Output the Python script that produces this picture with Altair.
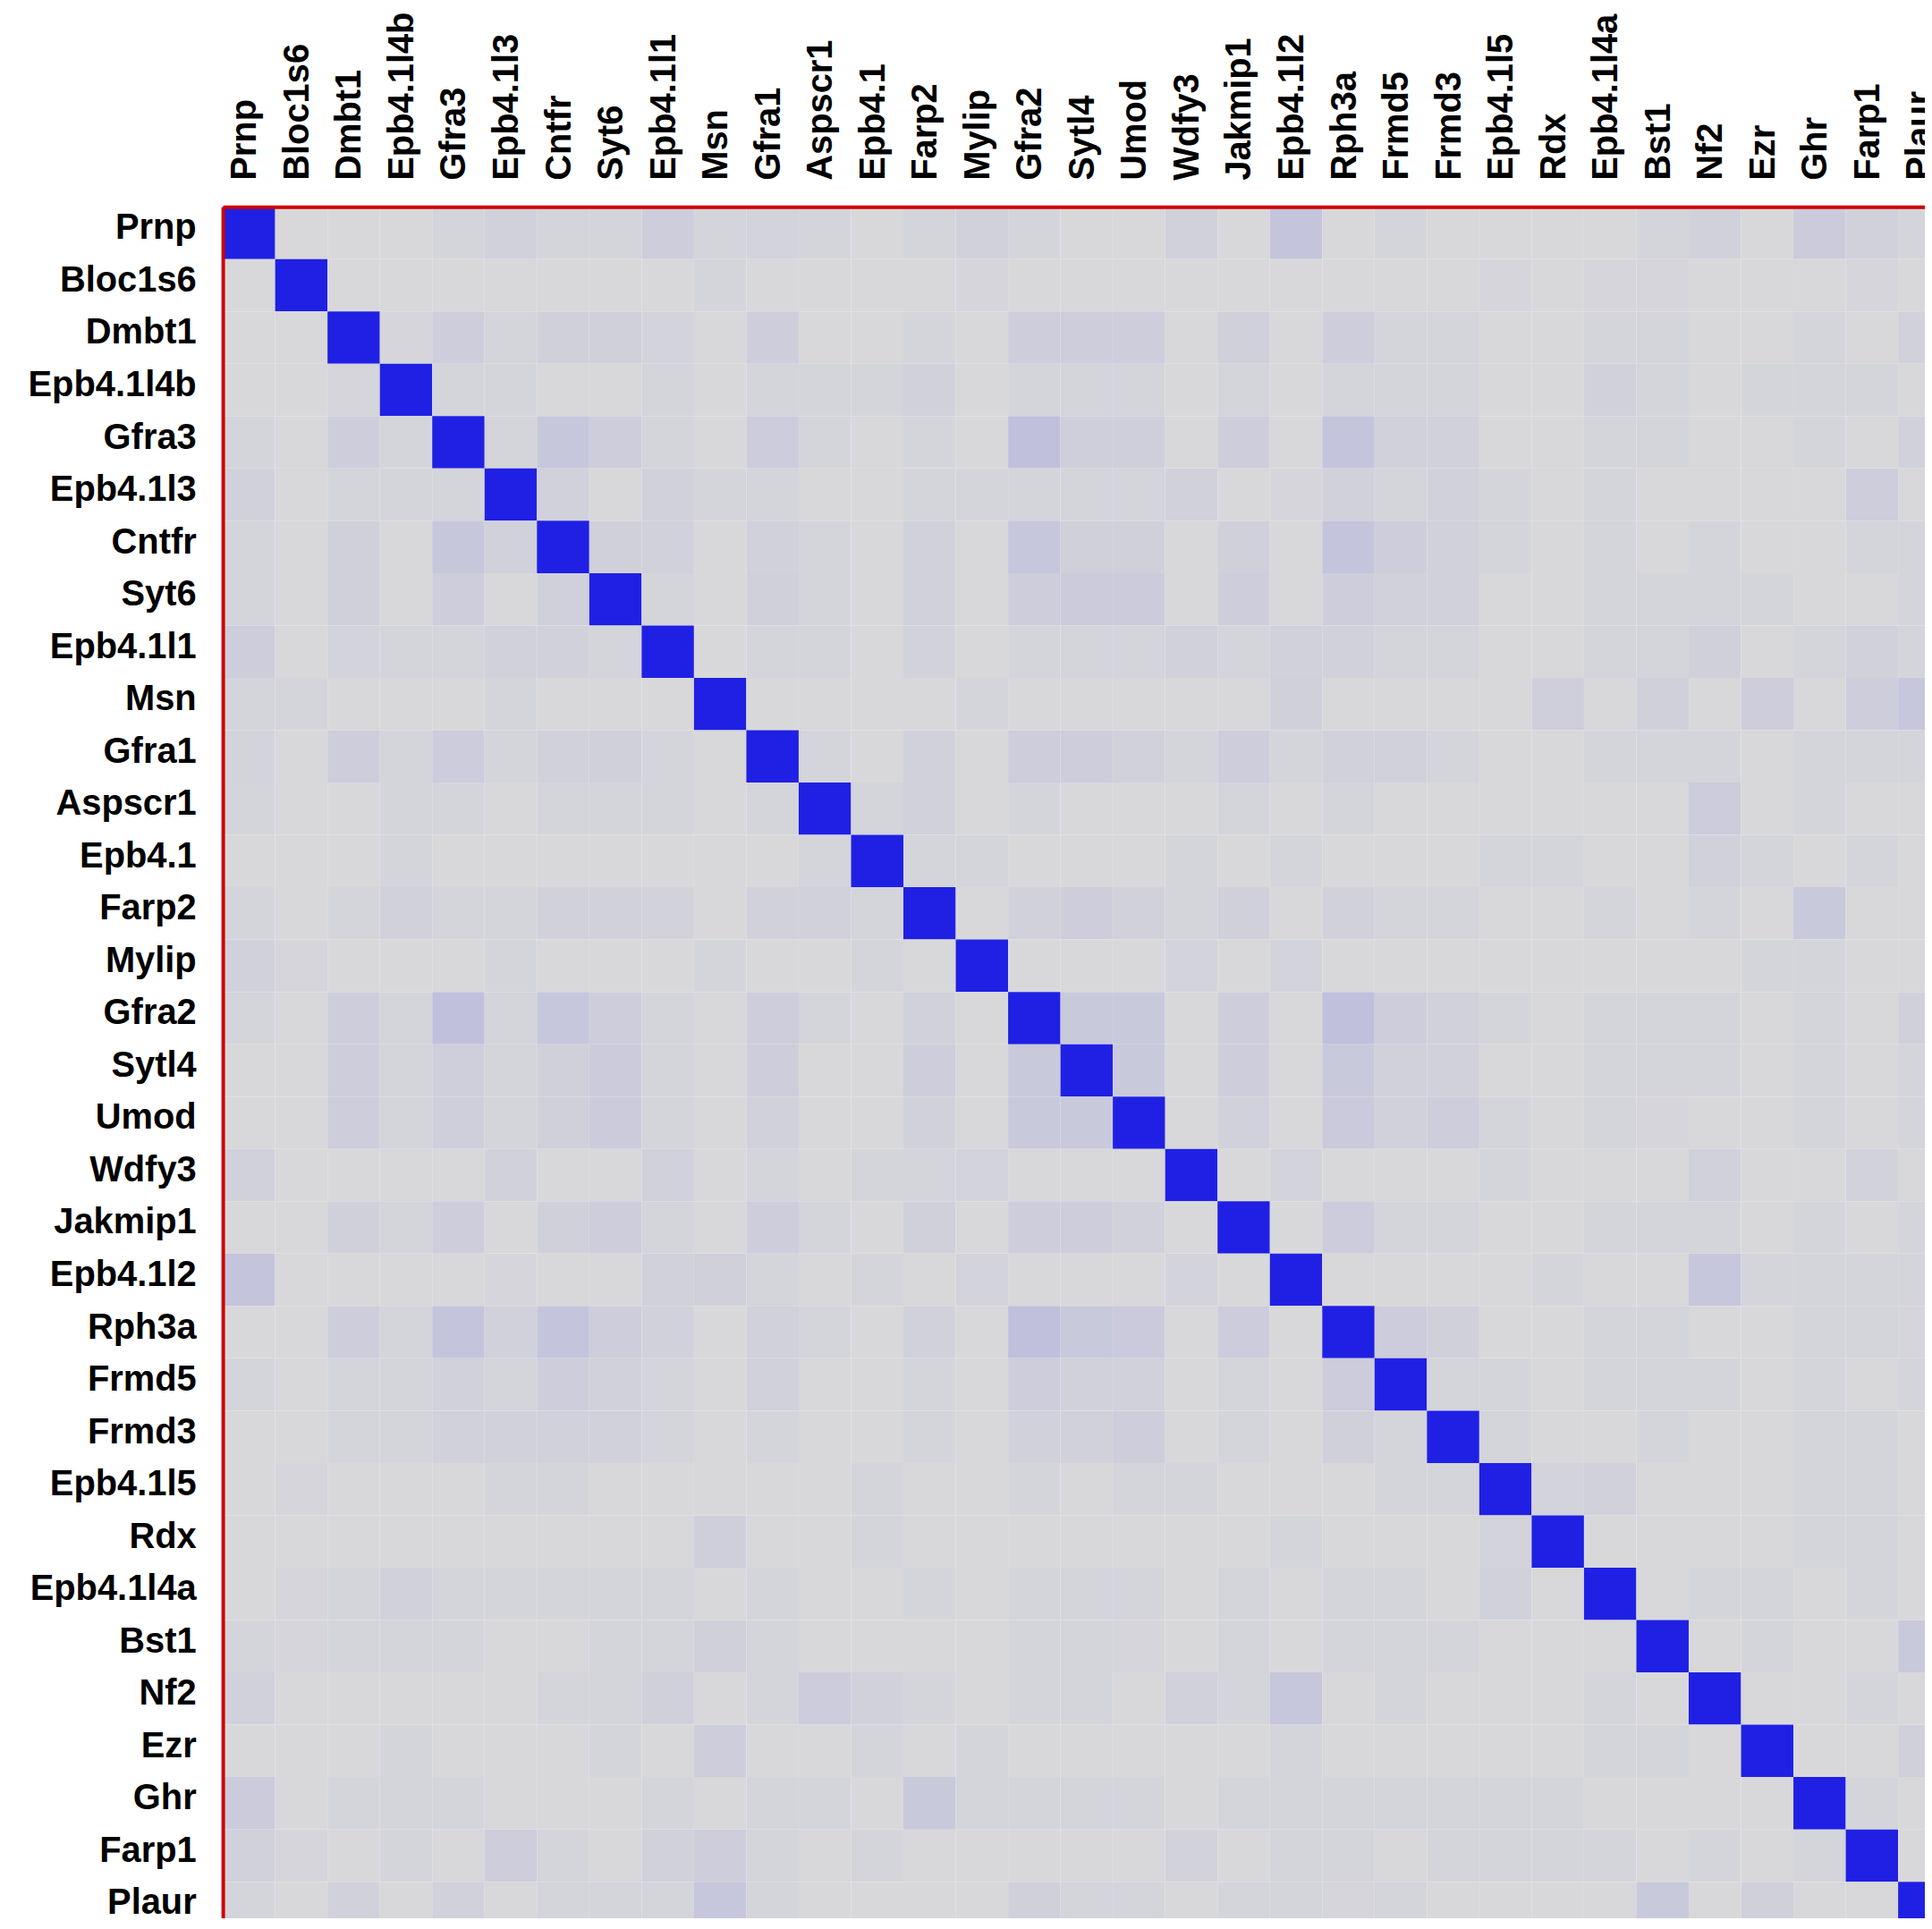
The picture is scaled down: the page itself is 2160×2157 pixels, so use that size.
import altair as alt
import pandas as pd

genes = ["Prnp", "Bloc1s6", "Dmbt1", "Epb4.1l4b", "Gfra3", "Epb4.1l3", "Cntfr", "Syt6",
         "Epb4.1l1", "Msn", "Gfra1", "Aspscr1", "Epb4.1", "Farp2", "Mylip", "Gfra2",
         "Sytl4", "Umod", "Wdfy3", "Jakmip1", "Epb4.1l2", "Rph3a", "Frmd5", "Frmd3",
         "Epb4.1l5", "Rdx", "Epb4.1l4a", "Bst1", "Nf2", "Ezr", "Ghr", "Farp1", "Plaur"]

# upper triangle of the symmetric matrix: row i lists the values for columns i+1 .. 32
upper = [
    [0, 0, 0, .02, .04, .02, .02, .06, .02, .025, .02, 0, .02, .04, .02, 0, 0, .04, 0, .11, 0, .02, 0, 0, 0, 0, .02, .04, 0, .07, .04, .02],
    [0, 0, 0, 0, 0, 0, 0, .02, 0, 0, 0, 0, .015, 0, 0, 0, 0, 0, 0, 0, 0, 0, .015, 0, .015, .015, 0, 0, 0, .015, 0],
    [.015, .06, .02, .045, .045, .025, 0, .06, 0, 0, .02, 0, .06, .06, .06, 0, .045, 0, .06, .02, .02, 0, 0, .02, .02, 0, 0, .02, 0, .04],
    [.02, .02, 0, 0, .02, 0, .02, .02, .02, .04, 0, .02, .02, .02, 0, .02, 0, .02, .02, .02, 0, 0, .04, .02, 0, .02, .02, .02, 0],
    [.02, .09, .06, .02, 0, .065, .02, 0, .02, 0, .13, .05, .05, 0, .06, 0, .11, .04, .04, 0, 0, .02, .02, 0, 0, .02, 0, .04],
    [.04, 0, .04, .02, .02, 0, 0, .02, .02, .02, .02, .02, .04, 0, .015, .04, .02, .04, .02, 0, .02, 0, 0, 0, 0, .06, 0],
    [.045, .04, 0, .04, .02, 0, .04, 0, .10, .045, .045, 0, .045, 0, .11, .06, .04, .02, 0, .02, 0, .02, 0, 0, .02, .02],
    [.02, 0, .045, .02, 0, .04, 0, .06, .07, .07, 0, .06, 0, .06, .04, .04, 0, 0, .02, .02, .02, .02, 0, 0, .02],
    [0, .02, .02, 0, .035, 0, .02, .02, .02, .04, .02, .04, .04, .02, .02, 0, 0, .02, .02, .045, 0, .02, .04, .02],
    [0, 0, 0, 0, .02, 0, 0, 0, 0, 0, .045, 0, 0, 0, 0, .05, 0, .045, 0, .06, 0, .06, .10],
    [.02, 0, .04, 0, .06, .06, .04, .02, .06, .02, .04, .04, .02, 0, 0, .02, .02, .02, 0, .02, .02, .02],
    [.02, .04, 0, .02, 0, 0, 0, .02, 0, .02, 0, 0, 0, 0, 0, 0, .065, 0, .02, 0, 0],
    [.02, .02, 0, 0, 0, .02, 0, .02, 0, 0, 0, .02, .02, 0, 0, .04, .02, 0, .02, 0],
    [0, .04, .06, .04, .02, .045, 0, .04, .02, .02, 0, 0, .02, 0, .02, 0, .08, 0, 0],
    [0, 0, 0, .025, 0, .025, 0, 0, 0, 0, 0, 0, 0, 0, .02, .02, 0, 0],
    [.08, .08, 0, .06, 0, .13, .06, .04, .02, 0, .02, .02, .02, 0, .02, 0, .045],
    [.08, 0, .06, 0, .08, .04, .04, 0, 0, .02, .02, .02, 0, .02, 0, .02],
    [0, .04, 0, .075, .04, .06, .02, 0, .02, .015, 0, 0, .02, 0, .02],
    [0, .025, 0, 0, 0, .02, 0, 0, 0, .04, 0, 0, .035, 0],
    [0, .065, .02, .02, 0, 0, .02, .02, .02, 0, .02, 0, .02],
    [0, 0, 0, 0, .02, 0, 0, .10, .02, .02, .02, .02],
    [.065, .045, 0, 0, .02, .02, 0, 0, .02, .02, .015],
    [.02, .02, 0, .02, .02, .02, 0, .02, 0, .02],
    [.02, 0, 0, .02, 0, 0, .02, .02, 0],
    [.025, .04, 0, 0, 0, .02, .02, 0],
    [0, 0, 0, 0, .02, .02, 0],
    [0, .02, .02, 0, .02, 0],
    [0, .02, 0, 0, .08],
    [0, 0, .02, 0],
    [0, 0, .045],
    [.02, 0],
    [0],
]

rows = []
n = len(genes)
for i in range(n):
    rows.append({"row": genes[i], "col": genes[i], "value": 1.0})
    for k, v in enumerate(upper[i] if i < len(upper) else []):
        j = i + 1 + k
        rows.append({"row": genes[i], "col": genes[j], "value": v})
        rows.append({"row": genes[j], "col": genes[i], "value": v})
df = pd.DataFrame(rows)

FONT = "Liberation Sans"
RED = "#d00000"
CELL = 58.75
SIZE = CELL * n          # full matrix extent; the page window crops it on the right and bottom
VIEW_W, VIEW_H = 1910, 1917

axis_common = dict(
    title=None, ticks=False, labelFont=FONT, labelFontWeight="bold",
    labelFontSize=40, labelColor="#000000", labelPadding=30, labelLimit=600,
    domain=True, domainColor=RED, domainWidth=4, zindex=1, grid=False,
)

chart = alt.Chart(df).mark_rect(strokeWidth=0).encode(
    x=alt.X("col:N", sort=genes,
            scale=alt.Scale(paddingInner=0, paddingOuter=0, range=[0, SIZE]),
            axis=alt.Axis(orient="top", labelAngle=270, labelOffset=-4, **axis_common)),
    y=alt.Y("row:N", sort=genes,
            scale=alt.Scale(paddingInner=0, paddingOuter=0, range=[0, SIZE]),
            axis=alt.Axis(orient="left", labelOffset=-5, **axis_common)),
    color=alt.Color("value:Q",
                    scale=alt.Scale(domain=[0, 1], range=["#d8d8db", "#2020e4"], interpolate="rgb"),
                    legend=None),
).properties(
    width=VIEW_W, height=VIEW_H,
    autosize=alt.AutoSizeParams(type="none"),
    padding={"left": 242, "top": 220, "right": 0, "bottom": 0},
).configure_view(strokeWidth=0).configure(background="#ffffff")

chart.save("out.html", embed_options={"renderer": "svg", "actions": False})
